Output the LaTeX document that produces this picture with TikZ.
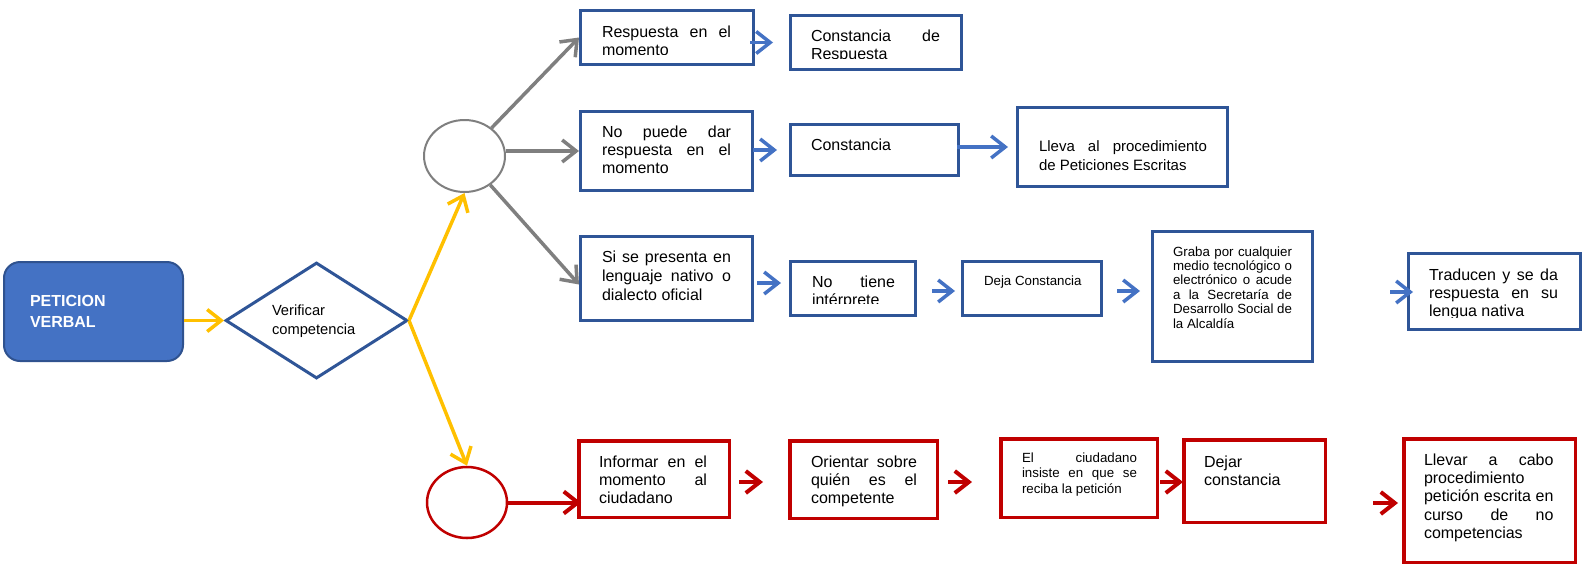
\documentclass[tikz,border=0pt]{standalone}
\usepackage{fontspec}
\setmainfont{Liberation Sans}
\usetikzlibrary{arrows.meta,shapes.geometric,calc}
\definecolor{boxblue}{HTML}{2F5597}
\definecolor{arrblue}{HTML}{4472C4}
\definecolor{petfill}{HTML}{4472C4}
\definecolor{petline}{HTML}{2F528F}
\definecolor{redc}{HTML}{C00000}
\definecolor{yel}{HTML}{FFC000}
\definecolor{grayc}{HTML}{7F7F7F}
\tolerance=10000
\hbadness=10000
\hfuzz=6pt
\hyphenpenalty=10000
\exhyphenpenalty=10000
\tikzset{
  bbox/.style={rectangle, draw=boxblue, line width=3pt, fill=white, inner sep=0pt},
  rbox/.style={rectangle, draw=redc, line width=3.5pt, fill=white, inner sep=0pt},
  txt/.style={anchor=base west, inner sep=0pt, outer sep=0pt, align=justify,
    font=\fontsize{16}{18.4}\selectfont},
  small/.style={font=\fontsize{13.3}{15.5}\selectfont},
  tip/.style={-{Straight Barb[length=14pt,width=22pt]}},
  yarr/.style={tip, draw=yel, line width=3.5pt},
  garr/.style={tip, draw=grayc, line width=3.5pt},
  barr/.style={tip, draw=arrblue, line width=3.5pt},
  rarr/.style={tip, draw=redc, line width=4pt},
}
\begin{document}
\begin{tikzpicture}[x=1pt,y=-1pt]
\useasboundingbox (0,0) rectangle (1585,566);

% start node and decision
\node[rectangle, rounded corners=16pt, draw=petline, line width=2pt, fill=petfill,
  minimum width=179pt, minimum height=99pt, inner sep=0pt] (pet) at (93.5,311.5) {};
\node[txt, align=left, text width=120pt, text=white, font=\fontsize{16}{20.6}\selectfont\bfseries]
  (pett) at (30,306.7) {PETICION\\VERBAL};
\node[diamond, draw=boxblue, line width=3pt, fill=white, minimum width=182pt,
  minimum height=116pt, inner sep=0pt] (dia) at (316.5,320.5) {};
\node[txt, align=left, text width=110pt, font=\fontsize{14.7}{19}\selectfont] (diat) at (272,315)
  {Verificar\\competencia};

% circles
\node[ellipse, draw=grayc, line width=2pt, fill=white, minimum width=81pt,
  minimum height=72pt, inner sep=0pt] (gc) at (464.5,156) {};
\node[ellipse, draw=redc, line width=2.5pt, fill=white, minimum width=80pt,
  minimum height=71pt, inner sep=0pt] (rc) at (467,502.5) {};

% blue boxes
\node[bbox, minimum width=173pt, minimum height=54pt] (b1) at (667,37.5) {};
\node[bbox, minimum width=171pt, minimum height=54pt] (b2) at (876,42.5) {};
\node[bbox, minimum width=172pt, minimum height=79pt] (b3) at (666.5,151) {};
\node[bbox, minimum width=168pt, minimum height=51pt] (b4) at (874.5,150) {};
\node[bbox, minimum width=210pt, minimum height=79pt] (b5) at (1122.5,147) {};
\node[bbox, minimum width=172pt, minimum height=84pt] (b6) at (666.5,278.5) {};
\node[bbox, minimum width=125pt, minimum height=54pt] (b7) at (853,288.5) {};
\node[bbox, minimum width=139pt, minimum height=54pt] (b8) at (1032,288.5) {};
\node[bbox, minimum width=160pt, minimum height=130pt] (b9) at (1232.5,296.5) {};
\node[bbox, minimum width=172pt, minimum height=76pt] (b10) at (1494.5,291.5) {};

% red boxes
\node[rbox, minimum width=150.5pt, minimum height=76.5pt] (r1) at (654,479) {};
\node[rbox, minimum width=147.5pt, minimum height=77.5pt] (r2) at (863.5,479.5) {};
\node[rbox, minimum width=156.5pt, minimum height=78.5pt] (r3) at (1079,478) {};
\node[rbox, minimum width=141.5pt, minimum height=82.5pt] (r4) at (1254.5,481) {};
\node[rbox, minimum width=171.5pt, minimum height=123.5pt] (r5) at (1489.5,500.5) {};

% texts of blue boxes
\begin{scope}
  \clip (590,12) rectangle (745,54.5);
  \node[txt, text width=129pt] (b1t) at (602,37) {Respuesta en el\linebreak momento};
\end{scope}
\begin{scope}
  \clip (800,17) rectangle (955,58.5);
  \node[txt, text width=129pt] (b2t) at (811,41.5) {Constancia de\linebreak Respuesta};
\end{scope}
\node[txt, text width=129pt] (b3t) at (602,137)
  {No puede dar\linebreak respuesta en el\linebreak momento};
\node[txt, align=left] (b4t) at (811,150) {Constancia};
\node[txt, text width=168pt, font=\fontsize{15}{19}\selectfont] (b5t) at (1039,151)
  {Lleva al procedimiento\linebreak de Peticiones Escritas};
\node[txt, text width=129pt, font=\fontsize{16}{19}\selectfont] (b6t) at (602,262)
  {Si se presenta en\linebreak lenguaje nativo o\linebreak dialecto oficial};
\begin{scope}
  \clip (800,263) rectangle (910,303.3);
  \node[txt, text width=83pt] (b7t) at (812,287) {No tiene\linebreak intérprete};
\end{scope}
\node[txt, small, align=left] (b8t) at (984,285) {Deja Constancia};
\node[txt, text width=119pt, font=\fontsize{13.3}{14.4}\selectfont] (b9t) at (1173,256)
  {Graba por cualquier\linebreak medio tecnológico o\linebreak electrónico o acude\linebreak
   a la Secretaría de\linebreak Desarrollo Social de\linebreak la Alcaldía};
\begin{scope}
  \clip (1415,255) rectangle (1575,317.3);
  \node[txt, text width=129pt, font=\fontsize{16}{18}\selectfont] (b10t) at (1429,280)
    {Traducen y se da\linebreak respuesta en su\linebreak lengua nativa};
\end{scope}

% texts of red boxes
\node[txt, text width=108pt] (r1t) at (599,467)
  {Informar en el\linebreak momento al\linebreak ciudadano};
\node[txt, text width=106pt] (r2t) at (811,467)
  {Orientar sobre\linebreak quién es el\linebreak competente};
\node[txt, small, text width=115pt] (r3t) at (1022,462)
  {El ciudadano\linebreak insiste en que se\linebreak reciba la petición};
\node[txt, align=left, text width=110pt] (r4t) at (1204,467) {Dejar\\constancia};
\node[txt, text width=129.5pt] (r5t) at (1424,465)
  {Llevar a cabo\linebreak procedimiento\linebreak petición escrita en\linebreak curso de no\linebreak competencias};

% yellow connectors
\draw[yarr] (pet.east |- dia.west) -- (dia.west);
\draw[yarr] (dia.east) -- (gc.south);
\draw[yarr] (dia.east) -- (rc.north);

% gray connectors
\draw[garr] (gc) -- (b1.west);
\draw[garr] (gc.east |- b3.west) -- (b3.west);
\draw[garr] (gc) -- ($(b6.west)+(0,6)$);

% blue arrows
\draw[barr] ($(b2.west)+(-39,0)$) -- ($(b2.west)+(-16,0)$);
\draw[barr] ($(b4.west)+(-36,0)$) -- ($(b4.west)+(-12,0)$);
\draw[barr] ($(b5.west)+(-59,0)$) -- ($(b5.west)+(-8,0)$);
\draw[barr] ($(b7.west)+(-32,-5.5)$) -- ($(b7.west)+(-8,-5.5)$);
\draw[barr] ($(b8.west)+(-29,2.5)$) -- ($(b8.west)+(-6,2.5)$);
\draw[barr] ($(b9.west)+(-34,-5.5)$) -- ($(b9.west)+(-11,-5.5)$);
\draw[barr] ($(b10.west)+(-17,0.5)$) -- ($(b10.west)+(6,0.5)$);

% red arrows
\draw[rarr] (rc.east) -- ($(rc.east -| r1.west)+(4,0)$);
\draw[rarr] ($(r2.west)+(-49,2.5)$) -- ($(r2.west)+(-25,2.5)$);
\draw[rarr] ($(r3.west)+(-51,4)$) -- ($(r3.west)+(-27,4)$);
\draw[rarr] ($(r4.west)+(-22,1)$) -- ($(r4.west)+(1,1)$);
\draw[rarr] ($(r5.west)+(-29,2.5)$) -- ($(r5.west)+(-4,2.5)$);
\end{tikzpicture}
\end{document}
